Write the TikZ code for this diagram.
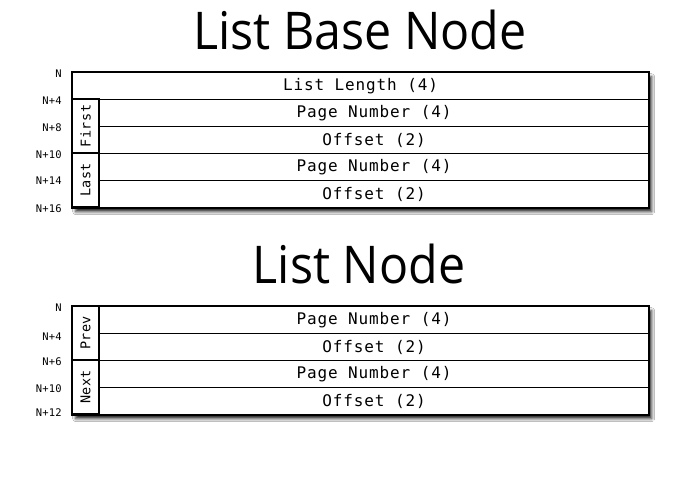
\documentclass[tikz,border=0pt]{standalone}
\usepackage{fontspec}
\setmainfont{Open Sans}
\newfontfamily\cellfont[LetterSpace=5.4]{DejaVu Sans Mono}
\newfontfamily\sidefont[LetterSpace=3.5]{DejaVu Sans Mono}
\newfontfamily\offfont[LetterSpace=2]{DejaVu Sans Mono}
\usetikzlibrary{shadows.blur}
\tikzset{
  frame/.style={draw, line width=1.3pt, fill=white, anchor=north west, inner sep=0pt,
    blur shadow={shadow xshift=3pt, shadow yshift=-4pt, shadow blur radius=3pt, shadow opacity=85}},
  cell/.style={draw, line width=1.1pt, anchor=north west, inner sep=0pt,
    minimum height=27pt, minimum width=549pt, font=\cellfont\fontsize{16}{16}\selectfont},
  side/.style={draw, line width=1.1pt, inner sep=0pt, rotate=90,
    minimum width=54pt, minimum height=27pt, font=\sidefont\fontsize{13.5}{13.5}\selectfont},
  offs/.style={anchor=east, inner sep=0pt, font=\offfont\fontsize{10.5}{10.5}\selectfont},
  title/.style={anchor=base, inner sep=0pt, font=\fontsize{52}{52}\selectfont, xscale=0.93, transform shape}
}
\begin{document}
\begin{tikzpicture}[x=1pt,y=-1pt]
\fill[white] (0,0) rectangle (678,495);
\useasboundingbox (0,0) rectangle (678,495);

% ---- List Base Node ----
\node[title] (t1) at (360,50) {List Base Node};
\node[frame, minimum width=576pt, minimum height=135pt] (box1) at (72,72) {};
\node[cell, minimum width=576pt] (len) at (72,72) {List Length (4)};
\node[side] (first) at (85.5,126) {First};
\node[side] (last) at (85.5,180) {Last};
\node[cell] (fpage) at (99,99) {Page Number (4)};
\node[cell] (foff) at (99,126) {Offset (2)};
\node[cell] (lpage) at (99,153) {Page Number (4)};
\node[cell] (loff) at (99,180) {Offset (2)};
\draw[line width=1.3pt] (box1.north west) rectangle (box1.south east);

\node[offs] (a0) at (62,74) {N};
\node[offs] (a1) at (62,101) {N+4};
\node[offs] (a2) at (62,128) {N+8};
\node[offs] (a3) at (62,155) {N+10};
\node[offs] (a4) at (62,181) {N+14};
\node[offs] (a5) at (62,209) {N+16};

% ---- List Node ----
\node[title] (t2) at (359,283) {List Node};
\node[frame, minimum width=576pt, minimum height=108pt] (box2) at (72,306) {};
\node[side] (prev) at (85.5,333) {Prev};
\node[side] (next) at (85.5,387) {Next};
\node[cell] (ppage) at (99,306) {Page Number (4)};
\node[cell] (poff) at (99,333) {Offset (2)};
\node[cell] (npage) at (99,360) {Page Number (4)};
\node[cell] (noff) at (99,387) {Offset (2)};
\draw[line width=1.3pt] (box2.north west) rectangle (box2.south east);

\node[offs] (b0) at (62,308) {N};
\node[offs] (b1) at (62,337) {N+4};
\node[offs] (b2) at (62,362) {N+6};
\node[offs] (b3) at (62,389) {N+10};
\node[offs] (b4) at (62,413) {N+12};
\end{tikzpicture}
\end{document}
